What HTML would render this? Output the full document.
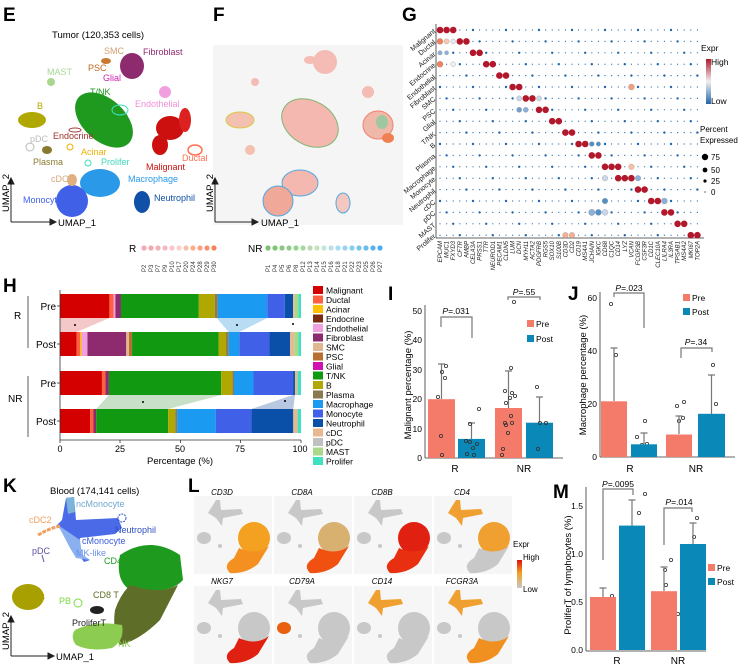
<!DOCTYPE html>
<html><head><meta charset="utf-8"><style>
body{margin:0;background:#fff}
svg{display:block;font-family:"Liberation Sans",sans-serif}
.pl{font-weight:bold;font-size:19px}
.it{font-style:italic}
</style></head><body>
<svg id="s" width="747" height="666" viewBox="0 0 747 666" xmlns="http://www.w3.org/2000/svg">
<text class="pl" x="3" y="21">E</text><text class="pl" x="213" y="21">F</text><text class="pl" x="402" y="21">G</text>
<text class="pl" x="3" y="292">H</text><text class="pl" x="388" y="300">I</text><text class="pl" x="568" y="300">J</text>
<text class="pl" x="3" y="492">K</text><text class="pl" x="188" y="492">L</text><text class="pl" x="553" y="498">M</text>

<!-- ===== E ===== -->
<text x="52" y="38" font-size="9.5">Tumor (120,353 cells)</text>
<ellipse cx="104" cy="120" rx="34" ry="21" transform="rotate(42 104 120)" fill="#1f9a1f"/>
<ellipse cx="120" cy="110" rx="8" ry="5" fill="none" stroke="#40e0c0" stroke-width="1"/>
<ellipse cx="132" cy="66" rx="12" ry="13" fill="#8e2a6e"/>
<ellipse cx="106" cy="61" rx="5" ry="3" fill="#c87830"/>
<ellipse cx="51" cy="82" rx="4" ry="4" fill="#a8d890"/>
<ellipse cx="32" cy="120" rx="14" ry="8" fill="#b0a800"/>
<circle cx="165" cy="92" r="6" fill="#f0a0e0"/>
<ellipse cx="170" cy="128" rx="14" ry="12" fill="#cc1010"/>
<ellipse cx="160" cy="145" rx="8" ry="10" fill="#cc1010"/>
<ellipse cx="185" cy="120" rx="6" ry="12" fill="#dd2020"/>
<ellipse cx="195" cy="150" rx="7" ry="5" fill="none" stroke="#ff7050" stroke-width="1.5"/>
<ellipse cx="100" cy="183" rx="20" ry="14" fill="#2a9ae8"/>
<circle cx="72" cy="201" r="16" fill="#4060e8"/>
<ellipse cx="72" cy="180" rx="5" ry="6" fill="#e0b080"/>
<ellipse cx="142" cy="202" rx="8" ry="11" fill="#1050a8"/>
<ellipse cx="47" cy="150" rx="5" ry="4" fill="#8a7a30"/>
<circle cx="30" cy="147" r="4" fill="none" stroke="#bbb"/>
<ellipse cx="75" cy="130" rx="6" ry="2" fill="none" stroke="#a04040"/>
<circle cx="70" cy="147" r="3" fill="none" stroke="#f0b000"/>
<circle cx="88" cy="163" r="3" fill="none" stroke="#40e0c0"/>
<g font-size="9">
<text x="143" y="55" fill="#8e2a6e">Fibroblast</text><text x="104" y="54" fill="#d0a070">SMC</text>
<text x="88" y="71" fill="#c06820">PSC</text><text x="103" y="81" fill="#d020b0">Glial</text>
<text x="47" y="75" fill="#a8d890">MAST</text><text x="90" y="95" fill="#1f9a1f">T/NK</text>
<text x="37" y="109" fill="#b0a800">B</text><text x="135" y="107" fill="#f090d8">Endothelial</text>
<text x="53" y="139" fill="#a03030">Endocrine</text><text x="30" y="142" fill="#bbb">pDC</text>
<text x="81" y="155" fill="#f0b000">Acinar</text><text x="33" y="165" fill="#8a7a30">Plasma</text>
<text x="101" y="165" fill="#40d8b8">Prolifer</text><text x="146" y="170" fill="#cc1010">Malignant</text>
<text x="182" y="161" fill="#ff7050">Ductal</text><text x="128" y="182" fill="#2a9ae8">Macrophage</text>
<text x="51" y="182" fill="#d8a878">cDC</text><text x="23" y="203" fill="#4060e8">Monocyte</text>
<text x="154" y="201" fill="#1050a8">Neutrophil</text>
</g>
<g stroke="#222" fill="#222">
<line x1="11" y1="222" x2="11" y2="182"/><path d="M8 184 L11 178 L14 184Z"/>
<line x1="11" y1="222" x2="52" y2="222"/><path d="M50 219 L56 222 L50 225Z"/>
</g>
<text x="58" y="226" font-size="9.5">UMAP_1</text>
<text x="9" y="212" font-size="9.5" transform="rotate(-90 9 212)">UMAP_2</text>

<!-- ===== F ===== -->
<rect x="213" y="45" width="190" height="180" fill="#f5f5f5"/>
<ellipse cx="310" cy="123" rx="30" ry="22" transform="rotate(30 310 123)" fill="#f4b8b0" stroke="#7cb870"/>
<ellipse cx="325" cy="62" rx="12" ry="12" fill="#f4bcb4"/>
<ellipse cx="310" cy="60" rx="6" ry="4" fill="#f4bcb4"/>
<ellipse cx="378" cy="125" rx="15" ry="14" fill="#f0b8a8" stroke="#f08070"/>
<ellipse cx="388" cy="138" rx="6" ry="5" fill="#f08050"/>
<ellipse cx="382" cy="122" rx="6" ry="7" fill="#a0c8a0"/>
<ellipse cx="300" cy="183" rx="18" ry="13" fill="#f4b8b0" stroke="#50a8e0"/>
<circle cx="278" cy="201" r="15" fill="#f0a898" stroke="#50a8e0"/>
<ellipse cx="343" cy="203" rx="7" ry="10" fill="#f4c8c0" stroke="#50a8e0"/>
<ellipse cx="240" cy="120" rx="14" ry="8" fill="#f4c0b0" stroke="#d8c840"/>
<circle cx="255" cy="82" r="4" fill="#f4bcb4"/><circle cx="368" cy="92" r="6" fill="#f4bcb4"/>
<circle cx="250" cy="150" r="5" fill="#f4c0b0"/>
<g stroke="#222" fill="#222">
<line x1="215" y1="222" x2="215" y2="182"/><path d="M212 184 L215 178 L218 184Z"/>
<line x1="215" y1="222" x2="254" y2="222"/><path d="M252 219 L258 222 L252 225Z"/>
</g>
<text x="261" y="226" font-size="9.5">UMAP_1</text>
<text x="213" y="212" font-size="9.5" transform="rotate(-90 213 212)">UMAP_2</text>
<text x="129" y="252" font-size="10">R</text>
<text x="248" y="252" font-size="10">NR</text>
<g id="flegR"></g><g id="flegNR"></g>
<g font-size="6" fill="#333">
<text transform="translate(146,272) rotate(-90)">P2</text><text transform="translate(153,272) rotate(-90)">P3</text>
<text transform="translate(160,272) rotate(-90)">P7</text><text transform="translate(167,272) rotate(-90)">P9</text>
<text transform="translate(174,272) rotate(-90)">P10</text><text transform="translate(181,272) rotate(-90)">P17</text>
<text transform="translate(188,272) rotate(-90)">P20</text><text transform="translate(195,272) rotate(-90)">P24</text>
<text transform="translate(202,272) rotate(-90)">P28</text><text transform="translate(209,272) rotate(-90)">P29</text>
<text transform="translate(216,272) rotate(-90)">P30</text>
<text transform="translate(270,272) rotate(-90)">P1</text><text transform="translate(277,272) rotate(-90)">P4</text>
<text transform="translate(284,272) rotate(-90)">P5</text><text transform="translate(291,272) rotate(-90)">P6</text>
<text transform="translate(298,272) rotate(-90)">P8</text><text transform="translate(305,272) rotate(-90)">P12</text>
<text transform="translate(312,272) rotate(-90)">P13</text><text transform="translate(319,272) rotate(-90)">P14</text>
<text transform="translate(326,272) rotate(-90)">P15</text><text transform="translate(333,272) rotate(-90)">P16</text>
<text transform="translate(340,272) rotate(-90)">P18</text><text transform="translate(347,272) rotate(-90)">P21</text>
<text transform="translate(354,272) rotate(-90)">P22</text><text transform="translate(361,272) rotate(-90)">P23</text>
<text transform="translate(368,272) rotate(-90)">P25</text><text transform="translate(375,272) rotate(-90)">P26</text>
<text transform="translate(382,272) rotate(-90)">P27</text>
</g>

<!-- ===== G ===== -->
<g stroke="#333" stroke-width="0.8"><line x1="436" y1="24" x2="436" y2="238"/><line x1="436" y1="238" x2="704" y2="238"/></g>
<g id="dots"></g>
<g font-size="7" text-anchor="end" fill="#222">
<text transform="translate(436,32) rotate(-40)">Malignant</text><text transform="translate(436,43) rotate(-40)">Ductal</text>
<text transform="translate(436,55) rotate(-40)">Acinar</text><text transform="translate(436,66) rotate(-40)">Endocrine</text>
<text transform="translate(436,78) rotate(-40)">Endothelial</text><text transform="translate(436,89) rotate(-40)">Fibroblast</text>
<text transform="translate(436,100) rotate(-40)">SMC</text><text transform="translate(436,112) rotate(-40)">PSC</text>
<text transform="translate(436,123) rotate(-40)">Glial</text><text transform="translate(436,135) rotate(-40)">T/NK</text>
<text transform="translate(436,146) rotate(-40)">B</text><text transform="translate(436,157) rotate(-40)">Plasma</text>
<text transform="translate(436,169) rotate(-40)">Macrophage</text><text transform="translate(436,180) rotate(-40)">Monocyte</text>
<text transform="translate(436,192) rotate(-40)">Neutrophil</text><text transform="translate(436,203) rotate(-40)">cDC</text>
<text transform="translate(436,214) rotate(-40)">pDC</text><text transform="translate(436,226) rotate(-40)">MAST</text>
<text transform="translate(436,237) rotate(-40)">Prolifer</text>
</g>
<g font-size="6" font-style="italic" text-anchor="end" fill="#222">
<text transform="translate(442,241) rotate(-90)">EPCAM</text><text transform="translate(448.6,241) rotate(-90)">MUC1</text>
<text transform="translate(455.2,241) rotate(-90)">FXYD3</text><text transform="translate(461.8,241) rotate(-90)">CFTR</text>
<text transform="translate(468.4,241) rotate(-90)">AMBP</text><text transform="translate(475,241) rotate(-90)">CELA3A</text>
<text transform="translate(481.6,241) rotate(-90)">PRSS1</text><text transform="translate(488.2,241) rotate(-90)">TTR</text>
<text transform="translate(494.8,241) rotate(-90)">NEUROD1</text><text transform="translate(501.4,241) rotate(-90)">PECAM1</text>
<text transform="translate(508,241) rotate(-90)">CLDN5</text><text transform="translate(514.6,241) rotate(-90)">LUM</text>
<text transform="translate(521.2,241) rotate(-90)">DCN</text><text transform="translate(527.8,241) rotate(-90)">MYH11</text>
<text transform="translate(534.4,241) rotate(-90)">ACTA2</text><text transform="translate(541,241) rotate(-90)">PDGFRB</text>
<text transform="translate(547.6,241) rotate(-90)">RGS5</text><text transform="translate(554.2,241) rotate(-90)">SOX10</text>
<text transform="translate(560.8,241) rotate(-90)">S100B</text><text transform="translate(567.4,241) rotate(-90)">CD3D</text>
<text transform="translate(574,241) rotate(-90)">CD2</text><text transform="translate(580.6,241) rotate(-90)">CD19</text>
<text transform="translate(587.2,241) rotate(-90)">MS4A1</text><text transform="translate(593.8,241) rotate(-90)">JCHAIN</text>
<text transform="translate(600.4,241) rotate(-90)">IGKC</text><text transform="translate(607,241) rotate(-90)">CD68</text>
<text transform="translate(613.6,241) rotate(-90)">C1QC</text><text transform="translate(620.2,241) rotate(-90)">CD14</text>
<text transform="translate(626.8,241) rotate(-90)">LYZ</text><text transform="translate(633.4,241) rotate(-90)">VCAN</text>
<text transform="translate(640,241) rotate(-90)">FCGR3B</text><text transform="translate(646.6,241) rotate(-90)">CSF3R</text>
<text transform="translate(653.2,241) rotate(-90)">CD1C</text><text transform="translate(659.8,241) rotate(-90)">CLEC10A</text>
<text transform="translate(666.4,241) rotate(-90)">LILRA4</text><text transform="translate(673,241) rotate(-90)">IL3RA</text>
<text transform="translate(679.6,241) rotate(-90)">TPSAB1</text><text transform="translate(686.2,241) rotate(-90)">MS4A2</text>
<text transform="translate(692.8,241) rotate(-90)">MKI67</text><text transform="translate(699.4,241) rotate(-90)">TOP2A</text>
</g>
<defs><linearGradient id="gExpr" x1="0" y1="0" x2="0" y2="1"><stop offset="0" stop-color="#b2182b"/><stop offset="0.5" stop-color="#f0f0f0"/><stop offset="1" stop-color="#2166ac"/></linearGradient>
<linearGradient id="gL" x1="0" y1="0" x2="0" y2="1"><stop offset="0" stop-color="#e01010"/><stop offset="0.45" stop-color="#f0a020"/><stop offset="1" stop-color="#c8c8c8"/></linearGradient></defs>
<text x="701" y="51" font-size="8.5">Expr</text>
<rect x="706" y="59" width="5" height="45" fill="url(#gExpr)"/>
<text x="711" y="65" font-size="8.5">High</text><text x="711" y="104" font-size="8.5">Low</text>
<text x="700" y="132" font-size="8">Percent</text><text x="700" y="143" font-size="8">Expressed</text>
<circle cx="705" cy="157" r="3.2"/><circle cx="705" cy="170" r="2.4"/><circle cx="705" cy="181" r="1.6"/><circle cx="705" cy="192" r="0.6"/>
<g font-size="8"><text x="711" y="160">75</text><text x="711" y="173">50</text><text x="711" y="184">25</text><text x="711" y="195">0</text></g>

<!-- ===== H ===== -->
<g id="hbars"></g>
<g stroke="#333" stroke-width="0.8" fill="none">
<line x1="60" y1="290" x2="60" y2="440"/><line x1="60" y1="440" x2="301" y2="440"/>
<line x1="28" y1="296" x2="28" y2="348"/><line x1="28" y1="376" x2="28" y2="437"/>
<line x1="57" y1="306" x2="60" y2="306"/><line x1="57" y1="344" x2="60" y2="344"/><line x1="57" y1="383" x2="60" y2="383"/><line x1="57" y1="421" x2="60" y2="421"/>
<line x1="60" y1="440" x2="60" y2="443"/><line x1="120" y1="440" x2="120" y2="443"/><line x1="180.5" y1="440" x2="180.5" y2="443"/><line x1="240.5" y1="440" x2="240.5" y2="443"/><line x1="301" y1="440" x2="301" y2="443"/>
</g>
<g font-size="10"><text x="14" y="319">R</text><text x="8" y="402">NR</text>
<text x="56" y="310" text-anchor="end">Pre</text><text x="56" y="348" text-anchor="end">Post</text>
<text x="56" y="387" text-anchor="end">Pre</text><text x="56" y="425" text-anchor="end">Post</text></g>
<g font-size="9" text-anchor="middle"><text x="60" y="452">0</text><text x="120" y="452">25</text><text x="180" y="452">50</text><text x="240" y="452">75</text><text x="300" y="452">100</text>
<text x="180" y="464" font-size="9.5">Percentage (%)</text></g>
<g id="hleg"></g>

<!-- ===== I ===== -->
<g stroke="#333" stroke-width="0.8" fill="none"><line x1="425" y1="305" x2="425" y2="458"/><line x1="425" y1="458" x2="563" y2="458"/></g>
<rect x="428" y="399.2" width="27" height="58.8" fill="#f47a6a"/>
<rect x="458" y="438.9" width="27" height="19.1" fill="#0a88b8"/>
<rect x="495" y="408" width="27" height="50" fill="#f47a6a"/>
<rect x="526" y="422.7" width="27" height="35.3" fill="#0a88b8"/>
<g stroke="#777" stroke-width="1.2" fill="none">
<path d="M441.5 399 V364 M438 364 H445"/><path d="M471.5 439 V423 M468 423 H475"/>
<path d="M508.5 408 V371 M505 371 H512"/><path d="M539.5 423 V397 M536 397 H543"/>
<path d="M441 327 V317 H472 V338"/><path d="M508 300 V297 H540 V300"/>
</g>
<g font-size="8.5" text-anchor="end"><text x="422" y="461">0</text><text x="422" y="432">10</text><text x="422" y="402">20</text><text x="422" y="373">30</text><text x="422" y="343">40</text><text x="422" y="314">50</text></g>
<text x="456" y="314" font-size="8.5" text-anchor="middle"><tspan class="it">P</tspan>=.031</text>
<text x="524" y="295" font-size="8.5" text-anchor="middle"><tspan class="it">P</tspan>=.55</text>
<text x="455" y="472" font-size="10" text-anchor="middle">R</text><text x="524" y="472" font-size="10" text-anchor="middle">NR</text>
<text transform="translate(411,385) rotate(-90)" font-size="9.5" text-anchor="middle">Malignant percentage (%)</text>
<rect x="527" y="320" width="7" height="7" fill="#f47a6a"/><text x="536" y="327" font-size="8.5">Pre</text>
<rect x="527" y="335" width="7" height="7" fill="#0a88b8"/><text x="536" y="342" font-size="8.5">Post</text>
<g id="ipts"></g>

<!-- ===== J ===== -->
<g stroke="#333" stroke-width="0.8" fill="none"><line x1="600" y1="292" x2="600" y2="457"/><line x1="600" y1="457" x2="735" y2="457"/></g>
<rect x="601" y="401.3" width="26" height="55.7" fill="#f47a6a"/>
<rect x="631" y="444.3" width="26" height="12.7" fill="#0a88b8"/>
<rect x="666" y="434.5" width="26" height="22.5" fill="#f47a6a"/>
<rect x="698" y="413.8" width="27" height="43.2" fill="#0a88b8"/>
<g stroke="#777" stroke-width="1.2" fill="none">
<path d="M614 401 V348 M610.5 348 H617.5"/><path d="M644 444 V433 M640.5 433 H647.5"/>
<path d="M679 434 V416 M675.5 416 H682.5"/><path d="M711.5 414 V375 M708 375 H715"/>
<path d="M614 297 V293 H644 V328"/><path d="M681 358 V348 H712 V352"/>
</g>
<g font-size="8.5" text-anchor="end"><text x="597" y="460">0</text><text x="597" y="407">20</text><text x="597" y="354">40</text><text x="597" y="301">60</text></g>
<text x="629" y="291" font-size="8.5" text-anchor="middle"><tspan class="it">P</tspan>=.023</text>
<text x="696" y="345" font-size="8.5" text-anchor="middle"><tspan class="it">P</tspan>=.34</text>
<text x="630" y="472" font-size="10" text-anchor="middle">R</text><text x="696" y="472" font-size="10" text-anchor="middle">NR</text>
<text transform="translate(586,375) rotate(-90)" font-size="9.5" text-anchor="middle">Macrophage percentage (%)</text>
<rect x="683" y="294" width="7" height="7" fill="#f47a6a"/><text x="692" y="301" font-size="8.5">Pre</text>
<rect x="683" y="308" width="7" height="7" fill="#0a88b8"/><text x="692" y="315" font-size="8.5">Post</text>

<!-- ===== M ===== -->
<g stroke="#333" stroke-width="0.8" fill="none"><line x1="586" y1="487" x2="586" y2="651"/><line x1="586" y1="651" x2="706" y2="651"/></g>
<rect x="590" y="597" width="26" height="53" fill="#f47a6a"/>
<rect x="619" y="525.6" width="26" height="124.4" fill="#0a88b8"/>
<rect x="651" y="591.2" width="26" height="58.8" fill="#f47a6a"/>
<rect x="680" y="544" width="26" height="106" fill="#0a88b8"/>
<g stroke="#777" stroke-width="1.2" fill="none">
<path d="M603 597 V588 M599.5 588 H606.5"/><path d="M632 526 V500 M628.5 500 H635.5"/>
<path d="M664 591 V567 M660.5 567 H667.5"/><path d="M693 544 V523 M689.5 523 H696.5"/>
<path d="M603 560 V489 H633 V495"/><path d="M664 545 V508 H692 V512"/>
</g>
<g font-size="8.5" text-anchor="end"><text x="583" y="653">0.0</text><text x="583" y="605">0.5</text><text x="583" y="557">1.0</text><text x="583" y="509">1.5</text></g>
<text x="618" y="487" font-size="8.5" text-anchor="middle"><tspan class="it">P</tspan>=.0095</text>
<text x="679" y="505" font-size="8.5" text-anchor="middle"><tspan class="it">P</tspan>=.014</text>
<text x="617" y="664" font-size="10" text-anchor="middle">R</text><text x="678" y="664" font-size="10" text-anchor="middle">NR</text>
<text transform="translate(571,575) rotate(-90)" font-size="9.5" text-anchor="middle">ProliferT of lymphocytes (%)</text>
<rect x="708" y="564" width="7" height="7" fill="#f47a6a"/><text x="717" y="571" font-size="8.5">Pre</text>
<rect x="708" y="578" width="7" height="7" fill="#0a88b8"/><text x="717" y="585" font-size="8.5">Post</text>

<!-- ===== K ===== -->
<text x="50" y="494" font-size="9.5">Blood (174,141 cells)</text>
<path d="M66 498 L74 497 L76 520 L118 518 L122 528 L115 534 L80 538 L78 552 L90 560 L84 562 L72 545 L62 530 L56 526 L62 520 Z" fill="#4a6ae8"/>
<path d="M66 498 L74 497 L75 512 L68 514Z" fill="#7ab4d8"/>
<path d="M58 525 L80 540 L82 555 L90 560 L76 558 L70 548Z" fill="#8ab0f0"/>
<path d="M38 535 Q50 528 60 526" stroke="#f0a060" stroke-width="3" fill="none" stroke-dasharray="4 1"/>
<circle cx="122" cy="518" r="4" fill="none" stroke="#3050c0" stroke-dasharray="2 1"/>
<path d="M42 555 L44 562" stroke="#6050a0"/>
<ellipse cx="28" cy="597" rx="16" ry="13" fill="#a8a000"/>
<path d="M120 555 Q150 535 180 555 L183 580 Q170 595 130 590 Q115 580 120 555Z" fill="#1e9a1e"/>
<path d="M130 585 Q160 595 178 585 L160 620 Q140 640 120 645 Q112 630 115 610 Q120 595 130 585Z" fill="#5e6e28"/>
<path d="M75 630 Q95 620 122 625 Q125 640 112 648 Q90 652 76 645 Q70 637 75 630Z" fill="#8ccc50"/>
<ellipse cx="97" cy="610" rx="7" ry="4" fill="#222"/>
<circle cx="78" cy="603" r="4" fill="none" stroke="#7cd840"/>
<g font-size="9">
<text x="76" y="507" fill="#70a8d0">ncMonocyte</text><text x="29" y="523" fill="#f0a060">cDC2</text>
<text x="115" y="533" fill="#3050c0">Neutrophil</text><text x="82" y="544" fill="#3a5ad8">cMonocyte</text>
<text x="32" y="554" fill="#6050a0">pDC</text><text x="76" y="556" fill="#6a90e8">MK-like</text>
<text x="104" y="564" fill="#1e9a1e">CD4 T</text><text x="39" y="600" fill="#a8a000">B</text>
<text x="93" y="598" fill="#5e6e28">CD8 T</text><text x="59" y="604" fill="#7cd840">PB</text>
<text x="72" y="626" fill="#222">ProliferT</text><text x="118" y="647" fill="#8ccc50">NK</text>
</g>
<g stroke="#222" fill="#222">
<line x1="11" y1="656" x2="11" y2="620"/><path d="M8 622 L11 616 L14 622Z"/>
<line x1="11" y1="656" x2="50" y2="656"/><path d="M48 653 L54 656 L48 659Z"/>
</g>
<text x="56" y="660" font-size="9.5">UMAP_1</text>
<text x="9" y="650" font-size="9.5" transform="rotate(-90 9 650)">UMAP_2</text>

<!-- ===== L ===== -->
<g id="minis"></g>
<g font-size="8" font-style="italic" text-anchor="middle">
<text x="222" y="495">CD3D</text><text x="302" y="495">CD8A</text><text x="382" y="495">CD8B</text><text x="462" y="495">CD4</text>
<text x="222" y="584">NKG7</text><text x="302" y="584">CD79A</text><text x="382" y="584">CD14</text><text x="462" y="584">FCGR3A</text>
</g>
<text x="513" y="547" font-size="8">Expr</text>
<rect x="517" y="560" width="5" height="28" fill="url(#gL)"/>
<text x="523" y="560" font-size="8">High</text><text x="523" y="592" font-size="8">Low</text>
</svg>
<script>
var NS="http://www.w3.org/2000/svg";
function el(p,t,a){var e=document.createElementNS(NS,t);for(var k in a)e.setAttribute(k,a[k]);p.appendChild(e);return e;}
var rc=['#f4a8b0','#f4a8b0','#f4b0b8','#f4b8c0','#f8c8c8','#f8d0d0','#f8c0a8','#f8b090','#f8a080','#f89070','#f88060'];
var gR=document.getElementById('flegR');rc.forEach(function(c,i){el(gR,'circle',{cx:144+i*7,cy:248,r:2.6,fill:c});});
var nc=['#7cc070','#80c478','#88c880','#90cc88','#98d090','#a8d8a0','#b8dcb0','#c8e0c0','#c8e4d8','#b8e0e8','#a8dcf0','#98d4f0','#88ccf0','#78c4f0','#68bcf0','#58b4f0','#50acf0'];
var gN=document.getElementById('flegNR');nc.forEach(function(c,i){el(gN,'circle',{cx:268+i*7,cy:248,r:2.6,fill:c});});
var gd=document.getElementById('dots');
var red={0:[0,1,2],1:[3,4],2:[5,6],3:[7,8],4:[9,10],5:[11,12],6:[13,14],7:[15,16],8:[17,18],9:[19,20],10:[21,22],11:[23,24],12:[25,26,27],13:[27,28,29],14:[30,31],15:[32,33],16:[34,35],17:[36,37],18:[38,39]};
var special={'1,0':['#f08060',3],'1,1':['#f8c8b0',2.6],'1,2':['#e8e8f0',2.4],'2,0':['#8ab0d8',2.2],'2,1':['#8ab0d8',2],'3,0':['#f08060',3],'3,2':['#f0f0f0',2.4],'5,29':['#f4a080',3],'6,12':['#c8d8e8',2.6],'6,15':['#c8d8e8',2.6],'7,12':['#70a0d0',2.6],'7,13':['#8ab0d8',2.6],'7,15':['#f8b8a0',2.8],'10,23':['#5090c8',2.4],'10,24':['#5090c8',2.2],'12,29':['#f8c0a0',2.8],'13,25':['#c8d8e8',2.8],'13,30':['#8ab0d8',2.8],'15,34':['#8ab0d8',3],'15,25':['#5090c8',2.8],'16,23':['#8ab0d8',3.2],'16,24':['#5090c8',3],'16,25':['#c8d8e8',3],'18,19':['#f4b090',2.8],'18,20':['#f4b090',2.8]};
for(var r=0;r<19;r++)for(var c=0;c<40;c++){
 var x=440+c*6.6,y=30+r*11.4,k=r+','+c;
 if(red[r].indexOf(c)>=0)el(gd,'circle',{cx:x,cy:y,r:3.3,fill:'#b2182b'});
 else if(special[k])el(gd,'circle',{cx:x,cy:y,r:special[k][1],fill:special[k][0],stroke:'#888','stroke-width':0.3});
 else {var rr=((r*7+c*13)%5==0)?1.2:0.6;el(gd,'circle',{cx:x,cy:y,r:rr,fill:'#2166ac'});}
}
var cols={Malignant:'#d40000',Ductal:'#ff6040',Acinar:'#ffc000',Endocrine:'#7a2a10',Endothelial:'#f0a0e0',Fibroblast:'#8e2a6e',SMC:'#e0b890',PSC:'#b87030',Glial:'#d010b0','T/NK':'#119a11',B:'#b0a800',Plasma:'#8a7a50',Macrophage:'#1a9af0',Monocyte:'#4060e8',Neutrophil:'#0a50a8',cDC:'#e8b890',pDC:'#c0c0c0',MAST:'#a8d888',Prolifer:'#40e0c0'};
var bars=[[294,[['Malignant',20.5],['Ductal',22.2],['Endothelial',23],['Fibroblast',25.3],['T/NK',57.6],['B',64.2],['Plasma',65.5],['Macrophage',86],['Monocyte',93.3],['Neutrophil',96.7],['cDC',97.4],['MAST',98.9],['Prolifer',100]]],
[332,[['Malignant',6.9],['Ductal',8.3],['Acinar',8.9],['Endothelial',11.4],['Fibroblast',27.5],['SMC',28.6],['PSC',29.9],['T/NK',65.8],['B',68.9],['Plasma',70],['Macrophage',74.4],['Monocyte',86.9],['Neutrophil',95.5],['cDC',97.2],['MAST',98.9],['Prolifer',100]]],
[371,[['Malignant',17.4],['Ductal',18.9],['Fibroblast',20.3],['T/NK',66.9],['B',71.5],['Plasma',72.2],['Macrophage',80.3],['Monocyte',96.7],['Neutrophil',97.5],['cDC',98.6],['Prolifer',100]]],
[409,[['Malignant',12.5],['Ductal',13.9],['Fibroblast',15],['T/NK',44.9],['B',47.8],['Plasma',48.6],['Macrophage',64.6],['Monocyte',79.4],['Neutrophil',96.8],['cDC',98.6],['Prolifer',100]]]];
var gh=document.getElementById('hbars');
function X(p){return 60+p*2.41;}
el(gh,'polygon',{points:X(0)+',318 '+X(20.5)+',318 '+X(6.9)+',332 '+X(0)+',332',fill:'#f4c8c8'});
el(gh,'polygon',{points:X(65)+',318 '+X(86)+',318 '+X(74.4)+',332 '+X(70)+',332',fill:'#b8dcf4'});
el(gh,'polygon',{points:X(20.3)+',395 '+X(66.9)+',395 '+X(44.9)+',409 '+X(15)+',409',fill:'#c8e0c8'});
el(gh,'polygon',{points:X(96.7)+',395 '+X(97.5)+',395 '+X(96.8)+',409 '+X(79.4)+',409',fill:'#b8c8e0'});
bars.forEach(function(b){var p=0;b[1].forEach(function(s){el(gh,'rect',{x:X(p),y:b[0],width:X(s[1])-X(p),height:24,fill:cols[s[0]]});p=s[1];});});
[[75,325],[237,325],[293,324],[143,402],[285,401]].forEach(function(q){el(gh,'circle',{cx:q[0],cy:q[1],r:1,fill:'#000'});});
var gl=document.getElementById('hleg');Object.keys(cols).forEach(function(n,i){var y=286+i*9.5;el(gl,'rect',{x:313,y:y,width:10,height:8,fill:cols[n]});var t=el(gl,'text',{x:326,y:y+7.5,'font-size':8.5});t.textContent=n;});
var gp=document.getElementById('ipts');
function pts(arr){arr.forEach(function(q){el(gp,'circle',{cx:q[0],cy:q[1],r:1.6,fill:'none',stroke:'#333','stroke-width':0.8});});}
pts([[446,366],[442,372],[445,378],[438,397],[441,436],[442,455],[479,409],[470,424],[466,441],[470,442],[477,444],[473,448],[467,454],[474,455],[514,302],[511,368],[505,391],[512,393],[510,398],[515,396],[506,403],[511,416],[505,423],[512,423],[508,433],[506,425],[503,449],[502,455],[537,387],[540,423],[546,423],[538,449],
[611,304],[616,355],[610,406],[616,417],[611,428],[617,451],[645,421],[637,437],[642,445],[636,449],[647,444],[641,454],[677,406],[684,402],[683,418],[679,421],[677,441],[680,446],[676,451],[684,450],[674,454],[679,454],[713,365],[716,404],[713,433],[708,451],
[600,601],[606,599],[612,596],[602,620],[645,494],[639,513],[633,535],[632,552],[638,555],[671,560],[665,570],[666,585],[664,598],[665,612],[671,610],[678,614],[663,621],[697,518],[694,537],[687,554],[687,568]]);
var gm=document.getElementById('minis');
var g='#c8c8c8';
var specs=[[196,498,[g,g,'#f4a020','#f49020']],[276,498,[g,g,'#d8b070','#f05010']],[356,498,[g,g,'#e02010','#e83010']],[436,498,['#f0a030',g,'#f0a030',g]],
[196,588,[g,g,g,'#e02010']],[276,588,[g,'#e86010',g,g]],[356,588,['#f0a030',g,g,g]],[436,588,['#f0a030',g,g,'#f09020']]];
specs.forEach(function(s){var x=s[0],y=s[1],c=s[2];
 el(gm,'rect',{x:x-2,y:y-2,width:78,height:78,fill:'#f6f6f6'});
 el(gm,'path',{d:'M'+(x+20)+' '+(y+2)+' l4 0 l1 10 l20 -1 l2 5 l-20 4 l-1 8 l-6 -8 l-8 -5 z',fill:c[0]});
 el(gm,'ellipse',{cx:x+8,cy:y+40,rx:7,ry:6,fill:c[1]});
 el(gm,'ellipse',{cx:x+58,cy:y+40,rx:16,ry:16,fill:c[2]});
 el(gm,'path',{d:'M'+(x+43)+' '+(y+50)+' Q'+(x+60)+' '+(y+58)+' '+(x+73)+' '+(y+48)+' L'+(x+62)+' '+(y+66)+' Q'+(x+50)+' '+(y+76)+' '+(x+34)+' '+(y+75)+' Q'+(x+26)+' '+(y+67)+' '+(x+38)+' '+(y+60)+' Z',fill:c[3]});
 el(gm,'circle',{cx:x+24,cy:y+48,r:2,fill:'#c8c8c8'});
});
</script>
</body></html>
